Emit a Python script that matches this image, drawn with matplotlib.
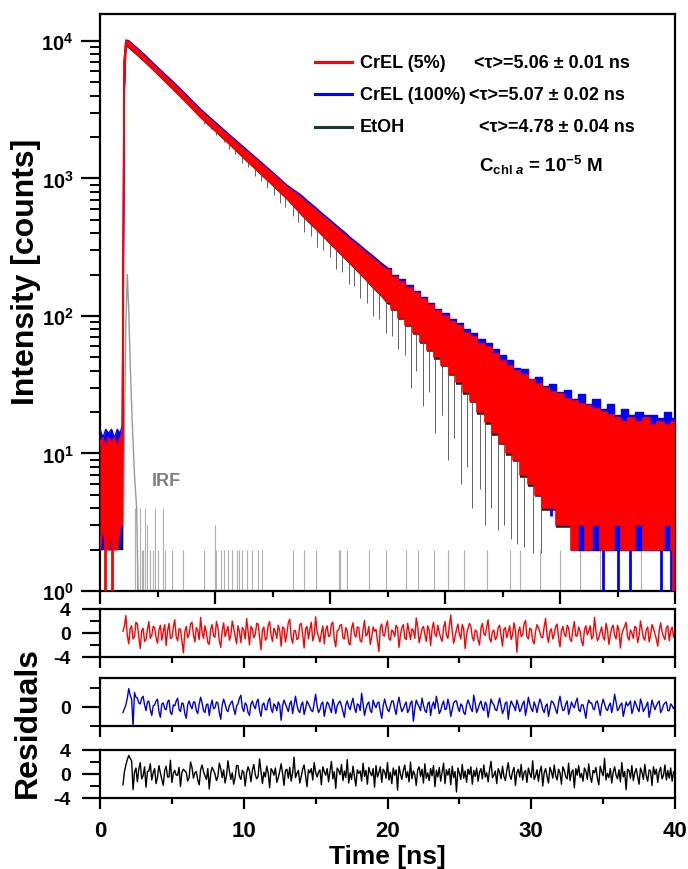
import numpy as np
import matplotlib
matplotlib.use("Agg")
import matplotlib.pyplot as plt
from matplotlib.transforms import ScaledTranslation
from matplotlib.ticker import MultipleLocator, LogLocator, FuncFormatter, NullFormatter, FixedLocator

plt.rcParams['font.family'] = ['Liberation Sans', 'DejaVu Sans']
plt.rcParams['font.weight'] = 'bold'
plt.rcParams['mathtext.fontset'] = 'custom'
plt.rcParams['mathtext.rm'] = 'Liberation Sans:bold'
plt.rcParams['mathtext.it'] = 'Liberation Sans:bold:italic'
plt.rcParams['mathtext.bf'] = 'Liberation Sans:bold'

W, H = 688, 870

# time grid of the decay envelopes: pre-pulse, rise and peak, 1 ns steps, 0.5 ns steps in the tail
t_pre = [0.0, 0.2, 0.4, 0.6, 0.8, 1.0, 1.2, 1.4, 1.55, 1.68, 1.8, 2.0]
t_mid = [3, 4, 5, 6, 7, 8, 9, 10, 11, 12, 13]
t_tail = list(np.arange(14, 40.01, 0.5))
t_env = np.array(t_pre + t_mid + t_tail)

# CrEL 5% (red): lower / upper edge of the noisy decay (counts)
cr5_lo = [2, 3, 2, 2, 3, 2, 2, 3, 3, 4000, 9400, 9100,
          7300, 5800, 4580, 3600, 2800, 2240, 1790, 1420, 1130, 905, 718,
          555, 492, 438, 388, 342, 304, 268, 238, 210, 186, 162, 145, 126, 112, 97, 86, 75, 65, 57, 50,
          44, 38, 33, 28, 24, 20, 17, 14, 12, 10, 9, 7, 6, 5, 4, 4, 3, 3, 2, 3,
          2, 3, 2, 2, 3, 2, 2, 3, 2, 2, 2, 3, 2]
cr5_hi = [12, 13, 11, 13, 12, 13, 11, 13, 14, 7000, 10000, 9900,
          7900, 6250, 5000, 3950, 3100, 2500, 2020, 1640, 1330, 1080, 870,
          725, 650, 590, 530, 480, 432, 392, 352, 320, 288, 262, 236, 215, 192, 178, 160, 146, 132, 120, 108,
          100, 90, 84, 75, 70, 63, 59, 53, 47, 43, 40, 37, 34, 32, 30, 28, 27, 25, 24, 23,
          22, 21, 20, 19, 18, 17, 18, 17, 18, 16, 17, 16, 17]

# CrEL 100% (blue)
cr100_lo = [2, 2, 3, 2, 2, 2, 3, 2, 3, 4100, 9500, 9200,
            7400, 5880, 4650, 3660, 2860, 2290, 1830, 1460, 1165, 935, 745,
            575, 512, 457, 405, 358, 318, 281, 250, 221, 196, 171, 153, 134, 119, 103, 92, 80, 70, 61, 54,
            47, 41, 36, 31, 26, 22, 19, 16, 13, 11, 10, 8, 7, 6, 5, 4, 3, 3, 3, 2,
            2, 2, 2, 2, 2, 2, 2, 2, 2, 2, 2, 2, 2]
cr100_hi = [15, 13, 15, 14, 15, 13, 15, 14, 16, 7200, 10150, 10050,
            8140, 6440, 5150, 4070, 3190, 2575, 2080, 1690, 1370, 1110, 895,
            755, 678, 614, 552, 500, 450, 408, 366, 333, 300, 273, 246, 224, 200, 185, 167, 152, 138, 125, 113,
            105, 95, 89, 80, 75, 68, 64, 58, 52, 48, 42, 41, 35, 36, 31, 32, 28, 29, 25, 27,
            23, 25, 21, 23, 19, 21, 19, 20, 19, 19, 18, 20, 18]

# EtOH (black)
etoh_lo = [2, 2, 2, 2, 2, 2, 2, 2, 2, 3800, 9200, 8900,
           7190, 5710, 4510, 3545, 2760, 2205, 1765, 1400, 1115, 890, 708,
           544, 482, 429, 380, 335, 298, 263, 233, 206, 182, 159, 142, 123, 110, 95, 84, 74, 64, 56, 49,
           43, 37, 32, 27, 23.5, 19.5, 16.5, 13.7, 11.7, 9.8, 8.8, 6.8, 5.8, 4.9, 3.9, 3.9, 2.9, 2.9, 2, 2,
           2, 2, 2, 2, 2, 2, 2, 2, 2, 2, 2, 2, 2]
etoh_hi = [11, 12, 10, 12, 11, 12, 10, 11, 12, 6800, 9900, 9700,
           7270, 5750, 4600, 3630, 2850, 2300, 1860, 1510, 1220, 990, 800,
           650, 585, 530, 477, 432, 389, 353, 317, 288, 259, 236, 212, 194, 173, 160, 144, 131, 119, 108, 97,
           90, 81, 76, 68, 63, 57, 53, 48, 42, 39, 36, 33, 31, 29, 27, 25, 24, 23, 22, 21,
           20, 19, 18, 17, 16, 15, 16, 15, 16, 14, 15, 14, 15]

# single-channel excursions below / above the envelopes (time, low, high)
etoh_spk_t = [7.2, 7.7, 8.1, 8.6, 9.0, 9.4, 9.9, 10.3, 10.8, 11.2, 11.6, 12.1, 12.5, 12.9,
              13.4, 13.8, 14.2, 14.7, 15.1, 15.5, 16.0, 16.4, 16.8, 17.3, 17.7, 18.1, 18.6, 19.0,
              19.4, 19.9, 20.3, 20.7, 21.2, 21.6, 22.0, 22.5, 22.9, 23.3, 23.8, 24.2, 24.6, 25.1,
              25.5, 25.9, 26.4, 26.8, 27.2, 27.7, 28.1, 28.6, 29.0, 29.5, 30.1, 30.7]
etoh_spk_lo = [2500, 2300, 2080, 1850, 1650, 1500, 1300, 1220, 1050, 960, 850, 760, 660, 620,
               530, 480, 410, 380, 320, 300, 270, 220, 210, 170, 165, 135, 125, 100,
               95, 75, 72, 58, 52, 30, 40, 22, 28, 14, 19, 9, 13, 6,
               8, 4, 5.5, 3, 4, 2.8, 3, 2.4, 2.2, 2.1, 1.9, 1.9]
etoh_spk_hi = [2750, 2500, 2250, 2020, 1820, 1680, 1470, 1350, 1200, 1100, 1010, 900, 830, 740,
               660, 600, 540, 480, 440, 400, 350, 320, 290, 260, 235, 210, 185, 165,
               150, 130, 120, 106, 95, 84, 76, 66, 60, 53, 47, 42, 38, 32,
               28, 26, 22, 19, 17, 14, 12, 11, 9, 8, 6.5, 5]
cr100_spk_t = [31.4, 32.6, 33.4, 34.1, 35.0, 36.0, 36.9, 39.0, 39.7]
cr100_spk_lo = [3.5, 3, 2.2, 2.2, 0.8, 0.8, 0.8, 0.8, 0.8]
cr100_spk_hi = [8, 6, 5, 4, 4, 3, 3, 3, 4]
cr5_spk_t = [0.35, 0.8, 39.85]
cr5_spk_lo = [0.8, 0.8, 0.8]
cr5_spk_hi = [3, 3, 3]

# instrument response function
irf_t = [1.6, 1.7, 1.8, 1.9, 2.0, 2.1, 2.25, 2.4, 2.55, 2.65]
irf_v = [2, 15, 90, 200, 110, 45, 16, 7, 4, 1]
irf_spk_t = [2.44, 2.6, 2.78, 2.9, 3.0, 3.13, 3.3, 3.5, 3.7, 3.83, 4.0, 4.38, 4.5, 5.0, 5.8, 7.2,
             8.0, 8.1, 8.4, 8.6, 8.9, 9.2, 9.5, 9.7, 9.9, 10.2, 10.6, 11.0, 11.3, 13.4, 14.2, 15.0,
             16.6, 16.7, 17.2, 18.7, 19.9, 21.3, 22.1, 23.2, 24.2, 25.3, 26.9, 28.5, 29.2, 30.6,
             32.0, 33.4, 34.8, 37.6]
irf_spk_v = [4, 2, 4, 2, 2, 4, 3, 2, 2, 4, 2, 4, 2, 2, 2, 2,
             3, 2, 2, 2, 2, 2, 2, 2, 2, 2, 2, 2, 2, 2, 2, 2,
             2, 2, 2, 2, 2, 2, 2, 2, 2, 2, 2, 2, 2, 2,
             2, 2, 2, 2]

# weighted residuals, 0.1 ns channels from 1.6 ns
res_cr5 = [0.3, 1.2, 2.9, -0.4, -1.8, 0.7, 1.2, -1.0, -0.6, 1.8, 1.5, -0.7, -2.6, 0.4, 0.8, -1.4, -1.1, 0.6, 1.9, -0.9,
           -0.4, 1.1, 0.9, -0.8, -1.7, 0.5, 1.3, -1.2, 0.2, 1.4, -2.1, 0.3, 1.6, -0.9, -0.8, 1.0, 2.2, -0.6, -1.3, 0.7,
           0.6, -1.4, -3.3, 0.2, 1.1, -0.8, -0.2, 1.5, 1.8, -0.3, -1.5, 0.9, 0.4, -1.1, 2.6, 0.1, -0.9, 1.2, 0.1, -1.6,
           -1.9, 0.6, 1.4, -0.5, -0.7, 1.9, 0.9, -1.3, -2.4, 0.3, 1.7, -0.6, 0.3, 1.1, -1.2, -0.4, 2.0, 0.8, -0.5, -1.8,
           1.2, 0.2, -1.6, 0.9, 0.5, -1.0, 2.4, 0.3, -2.0, 1.1, 0.7, -0.8, -0.3, 1.6, 1.5, -0.6, -2.8, 0.5, 1.0, -1.2,
           -0.8, 1.3, 1.9, -0.4, -1.4, 0.8, 0.2, -0.9, 1.3, 0.4, -2.2, 1.0, 0.8, -1.5, -0.1, 1.7, 2.3, -0.7, -1.7, 0.4,
           0.4, -1.1, -0.9, 1.4, 1.6, -0.3, -2.5, 0.7, 1.1, -1.0, 0.6, 1.8, -1.3, -0.4, 2.7, 0.2, -0.6, -1.5, 0.0, 1.2,
           -1.8, 0.5, 1.2, -0.6, -0.4, 1.5, 1.8, -1.1, -2.3, 0.4, 0.5, 1.3, 1.4, -0.8, -1.0, 0.9, 0.3, -1.7, -2.0, 0.8,
           1.7, -0.2, -0.7, 1.0, 0.9, -1.3, -1.5, 0.6, 2.1, -0.5, -0.2, 1.1, -1.9, -0.7, 1.0, 0.3, 0.6, -1.2, -3.1, 0.9,
           1.5, -0.4, -0.5, 1.2, 2.0, -0.9, -1.2, 0.5, 0.2, -0.6, 1.3, 0.8, -2.4, -0.3, 0.9, 1.4, -0.8, -1.1, 1.6, 0.2,
           -1.1, 0.7, 0.4, -0.9, 2.5, 1.0, -1.6, -0.5, 0.7, 1.1, -0.3, -1.4, 1.2, 0.4, -2.1, 0.6, 1.8, -0.2, -0.6, 1.3,
           0.1, -0.8, -1.4, 0.9, 1.9, -0.4, -0.9, 1.2, 3.0, 0.3, -1.7, -0.6, 0.6, 1.5, -0.2, -1.0, 1.4, 0.7, -2.6, -0.3,
           0.8, 1.6, 1.1, -0.7, -1.3, 0.5, 0.3, -1.2, -2.0, 0.8, 1.6, -0.1, -0.4, 1.0, 2.2, -0.9, -1.5, 0.2, 0.5, -1.1,
           -0.7, 0.9, 1.3, -0.5, -2.2, 0.6, 0.9, -0.8, 0.2, 1.2, -1.1, -0.3, 1.7, 0.4, -3.2, 0.2, 1.0, -0.6, -0.3, 1.5,
           2.1, -0.6, -1.0, 0.8, 0.6, -1.3, -1.8, 0.3, 1.4, 0.9, 0.1, -0.7, -0.8, 1.1, 2.4, -0.4, -1.6, 0.3, 0.7, -1.0,
           -0.2, 1.1, 1.5, -0.9, -2.3, 0.4, 1.1, -0.2, -0.6, 1.3, 0.8, -1.1, -1.4, 0.7, 1.9, -0.5, -0.5, 1.0, 0.3, -1.4,
           -2.1, 0.5, 1.2, -0.3, 0.4, 1.2, -1.0, -0.6, 2.6, 0.3, -1.3, -0.8, 0.2, 1.0, -0.7, -1.2, 1.6, 0.6, -1.9, -0.4,
           0.9, 1.3, -0.4, -1.0, 1.3, 0.4, -2.5, -0.2, 0.6, 1.1, 1.8, -0.6, -1.2, 0.5, 0.0, -0.9, 1.1, 0.9, -1.6, -0.5,
           2.0, 0.6, -0.8, -1.2, 0.5, 1.0, -1.5, -0.4, 1.4, 0.8, -0.1, -1.0, -2.2, 0.4, 1.7, 0.2, -0.6, -1.1, 0.9, 1.2,
           -1.3, 0.4, 1.0, -0.7, 0.2]
res_cr100 = [-0.6, -0.2, 0.2, 0.9, 1.9, 1.2, 0.8, -2.0, 1.5, 1.0, 0.9, 0.4, 0.3, 0.9, 1.1, 0.2, -0.4, 0.5, 0.6, -0.3,
             -0.9, 0.1, 0.2, 0.6, 0.8, -0.5, -1.1, 0.3, 0.4, -0.2, -0.3, 0.5, 0.7, -0.6, -0.8, 0.2, 0.1, 0.6, 0.9, -0.3,
             -0.5, 0.4, 0.3, -0.7, -1.2, 0.2, 0.6, 0.1, -0.2, 0.5, 0.5, -0.4, -0.7, 0.3, 1.0, 0.4, -0.4, -0.6, 0.2, 0.3,
             -0.9, 0.1, 0.7, -0.2, -0.1, 0.5, 0.4, -0.6, -1.3, 0.2, 0.8, 0.3, -0.3, -0.5, 0.1, 0.4, 0.6, -0.2, -0.8, 0.1,
             0.3, 0.9, 1.2, -0.1, -0.5, 0.4, 0.2, -0.6, -0.9, 0.3, 0.6, 0.1, -0.2, 0.5, 0.8, -0.4, -1.0, 0.2, 0.4, -0.3,
             -0.3, 0.6, 0.9, -0.2, -0.6, 0.3, 0.1, -0.4, 0.5, 0.2, -1.4, 0.1, 0.7, 0.3, -0.1, -0.5, 0.3, 0.6, -0.7, 0.2,
             1.1, 0.2, -0.4, -0.6, 0.2, 0.5, -0.8, -0.2, 0.6, 0.3, 0.0, -0.4, -0.5, 0.4, 1.3, 0.1, -0.6, -0.3, 0.3, 0.5,
             -1.0, -0.2, 0.5, 0.3, -0.2, -0.6, 0.8, 0.2, -0.7, 0.1, 0.4, 0.6, 0.1, -0.5, -1.1, 0.2, 0.6, 0.0, -0.3, 0.4,
             0.9, -0.1, -0.6, 0.3, 0.2, -0.4, 1.4, 0.3, -0.9, -0.2, 0.3, 0.5, -0.4, -0.6, 0.7, 0.2, -0.1, 0.4, 0.5, -0.5,
             -1.2, 0.1, 0.8, 0.2, -0.3, -0.5, 0.1, 0.6, 0.6, -0.2, -0.8, 0.3, 1.0, 0.1, -0.5, -0.2, 0.2, 0.5, -0.6, -0.3,
             0.4, 0.6, -1.5, -0.2, 0.7, 0.3, 0.0, -0.4, 0.9, 0.2, -0.4, -0.6, 0.3, 0.5, -0.9, 0.1, 0.5, -0.2, 1.1, 0.3,
             -0.7, -0.4, 0.2, 0.6, -0.3, -0.2, 0.8, 0.2, -1.0, -0.3, 0.4, 0.6, 0.6, -0.1, -0.5, 0.3, 0.1, -0.6, -0.8, 0.2,
             0.7, 0.3, -0.2, -0.5, 1.2, 0.4, -0.6, -0.2, 0.3, 0.6, -0.1, -0.4, 0.5, 0.2, -1.1, -0.2, 0.8, 0.4, 0.2, -0.3,
             -0.4, 0.3, 0.9, 0.1, -0.7, -0.3, 0.4, 0.5, -1.3, -0.1, 0.6, 0.3, 0.0, -0.4, 0.7, 0.2, -0.5, -0.2, 0.3, 0.6,
             -0.9, -0.1, 1.0, 0.3, -0.2, -0.5, 0.5, 0.1, -0.6, 0.2, 0.8, 0.4, -0.3, -0.6, 0.1, 0.3, -1.0, -0.2, 0.6, 0.5,
             0.2, -0.3, -0.7, 0.4, 1.1, 0.2, -0.4, -0.3, 0.3, 0.6, -0.8, -0.2, 0.5, 0.1, -0.1, 0.5, 0.9, -0.3, -0.5, 0.2,
             0.2, -0.4, -1.2, 0.1, 0.7, 0.4, 0.4, -0.2, -0.3, 0.5, 0.6, -0.1, -0.9, 0.2, 0.8, 0.3, -0.2, -0.4, 0.1, 0.4,
             -0.6, 0.2, 1.3, 0.5, -0.4, -0.2, 0.2, 0.4, -1.0, -0.3, 0.5, 0.1, 0.3, 0.6, -0.7, -0.2, 0.6, 0.2, -0.2, -0.5,
             0.8, 0.3, -0.5, -0.2, 0.1, 0.5, -1.1, -0.3, 0.7, 0.2, -0.3, 0.1, 0.4, 0.6, -0.6, -0.3, 0.2, 0.4, 0.5, -0.4,
             -0.4, 0.3, 0.1, -0.2, 0.2]
res_etoh = [-1.8, 0.4, 1.5, 2.4, 3.1, 2.6, 2.2, -2.6, 0.3, 1.0, -1.3, 0.8, 1.9, -0.8, -0.3, 1.2, -2.2, 0.4, 0.5, 1.7,
            -1.0, 0.2, 0.9, -1.6, -0.5, 1.4, 0.2, -0.9, -1.9, 0.6, 1.3, -0.5, -0.5, 2.3, -1.4, 0.1, 0.6, -0.2, -0.2, 1.1,
            -2.1, 0.3, 0.8, 0.5, 0.3, -1.2, -0.6, 2.0, 1.1, -0.7, 0.2, 0.4, -1.0, -1.8, 0.7, 1.5, 0.4, -0.3, -0.9, 0.9,
            -2.5, 0.1, 1.1, 0.6, 0.0, -1.1, -0.4, 1.8, 0.9, -0.6, 0.7, -1.5, -0.3, 2.2, 0.5, -0.9, 0.2, -1.7, -0.6, 1.4,
            1.4, -0.4, -0.9, 0.6, 0.3, -2.0, 0.2, 1.2, 0.5, -1.3, 0.6, 1.6, -0.1, -0.8, -0.4, 2.5, 0.4, -1.6, 0.3, -0.5,
            1.3, 0.2, -2.3, 0.9, 0.5, -0.2, 1.0, -1.4, -0.6, 0.4, 1.7, 0.1, -1.9, 0.6, 0.8, -0.7, 1.1, -1.2, 0.2, 2.8,
            -0.6, 0.1, 0.6, -1.5, -0.4, 0.8, 1.5, -0.3, -2.1, 0.7, 0.2, 0.9, -1.0, 1.9, 0.3, -0.5, 0.3, 0.7, -1.8, 1.2,
            0.4, -0.2, 0.9, -1.3, 0.5, 2.1, -0.8, 0.4, -2.4, 1.0, 0.6, -0.1, 1.6, -1.1, 0.5, -0.6, 2.4, -1.5, 0.2, -0.9,
            1.3, -0.3, -2.0, 0.7, 0.1, 0.5, -1.2, 1.8, -0.4, 0.6, -1.7, 1.1, 0.2, -0.3, 0.9, -2.2, 1.4, -0.5, 0.2, 1.2,
            -1.4, 0.8, 0.4, -0.7, 1.9, -1.0, 0.3, -1.6, 1.0, -0.2, 0.7, -2.7, 1.3, 0.0, -0.9, 0.6, 1.5, -0.6, 0.4, -1.3,
            2.0, -0.8, 0.5, -0.1, -1.9, 0.7, 1.2, -0.4, 0.8, -1.5, 1.7, -0.7, 0.2, -1.1, 0.9, -0.3, 1.4, -2.1, 0.6, -0.5,
            1.1, -1.2, 0.3, 1.8, -1.6, 0.7, -0.2, 0.9, -1.8, 1.3, -0.6, 0.4, -3.0, 1.0, 0.1, -0.9, 1.6, -0.7, 0.5, -1.4,
            0.8, -0.1, 1.2, -1.7, 0.6, -0.4, 1.0, -1.2, 0.3, 0.9, -0.8, 1.5, -0.5, 0.2, -1.3, 0.7, 2.1, -0.6, -0.2, 0.5,
            -1.6, 0.9, 0.3, -0.8, 1.3, -0.4, -1.1, 0.6, 1.9, -0.2, -0.9, 0.4, 1.1, -1.9, 0.3, 0.8, -0.5, 1.6, -1.0, 0.2,
            0.6, -1.4, 1.0, 0.1, -0.6, 2.2, -0.9, -0.3, 0.7, -1.2, 0.5, 1.3, -2.0, 0.2, 0.9, -0.4, -1.5, 1.1, 0.4, -0.7,
            1.5, -0.3, -1.0, 0.8, 0.2, -1.7, 1.2, 0.6, -0.5, -0.8, 1.8, -1.1, 0.3, 0.7, -2.3, 0.9, -0.2, 1.4, -0.6, 0.1,
            -1.2, 1.0, 0.5, -0.9, 1.7, -0.4, -1.4, 0.6, 0.2, 1.1, -0.7, -1.8, 1.3, 0.4, -0.3, 2.6, -1.0, 0.1, -0.6, 0.9,
            -1.5, 0.3, 1.2, -0.2, -0.8, 0.7, -1.3, 1.9, -0.5, 0.4, -2.6, 0.8, 0.6, -0.7, 1.4, -1.1, 0.2, 0.9, -0.4, -1.7,
            1.0, 0.3, -0.9, 1.6, -0.3, -1.2, 0.7, 0.5, -1.9, 1.2, -0.1, 0.8, -1.4, 0.4, 1.1, -0.8, -0.2, 1.5, -1.0, 0.6,
            -0.7, 1.0, -1.2, 0.4, 0.3]

RED = '#ff0000'
BLUE = '#0000ff'
BLACK = '#000000'
GREY = '#b0b0b0'


def px_box(left, top, right, bottom):
    return [left / W, 1 - bottom / H, (right - left) / W, (bottom - top) / H]


def draw_band(ax, lo, hi, color, z, lw=1.2):
    lo, hi = np.asarray(lo), np.asarray(hi)
    k = int(np.searchsorted(t_env, 20.0))
    # smooth part of the decay
    ax.fill_between(t_env[:k + 1], lo[:k + 1], hi[:k + 1], color=color, lw=0, zorder=z)
    ax.plot(t_env[:k + 1], lo[:k + 1], color=color, lw=lw, zorder=z)
    ax.plot(t_env[:k + 1], hi[:k + 1], color=color, lw=lw, zorder=z)
    # count-limited tail drawn channel-like
    ax.fill_between(t_env[k:], lo[k:], hi[k:], step='mid', color=color, lw=0, zorder=z)
    ax.step(t_env[k:], lo[k:], where='mid', color=color, lw=lw, zorder=z)
    ax.step(t_env[k:], hi[k:], where='mid', color=color, lw=lw, zorder=z)


def nudge(axis, value, dy_pt):
    # shift a single tick label vertically
    for tick in axis.get_major_ticks():
        if np.isclose(tick.get_loc(), value):
            lbl = tick.label1
            lbl.set_transform(lbl.get_transform() + ScaledTranslation(0, dy_pt / 72, fig.dpi_scale_trans))


fig = plt.figure(figsize=(W / 100, H / 100), dpi=100)

# ---- decay panel ----
ax = fig.add_axes(px_box(100, 15, 675, 592))
ax.set_yscale('log')

ax.vlines(irf_spk_t, 0.5, irf_spk_v, color=GREY, lw=0.8, zorder=1)
ax.plot(irf_t, irf_v, color='#9a9a9a', lw=1.0, zorder=1)

draw_band(ax, etoh_lo, etoh_hi, BLACK, 2, lw=0.5)
ax.vlines(etoh_spk_t, etoh_spk_lo, etoh_spk_hi, color='#4a4a4a', lw=0.6, zorder=2)
draw_band(ax, cr100_lo, cr100_hi, BLUE, 3, lw=1.0)
ax.vlines(cr100_spk_t, cr100_spk_lo, cr100_spk_hi, color=BLUE, lw=2.0, zorder=3)
draw_band(ax, cr5_lo, cr5_hi, RED, 4, lw=1.2)
ax.vlines(cr5_spk_t, cr5_spk_lo, cr5_spk_hi, color=RED, lw=2.0, zorder=4)

ax.set_xlim(0, 40)
ax.set_ylim(1, 15700)
ax.xaxis.set_major_locator(MultipleLocator(8))
ax.xaxis.set_minor_locator(MultipleLocator(4))
ax.xaxis.set_major_formatter(NullFormatter())
ax.yaxis.set_major_locator(FixedLocator([1, 10, 100, 1000, 10000]))
ax.yaxis.set_minor_locator(LogLocator(base=10, subs=np.arange(2, 10), numticks=20))
ax.yaxis.set_minor_formatter(NullFormatter())
ax.yaxis.set_major_formatter(FuncFormatter(lambda v, p: '10$^{%d}$' % round(np.log10(v))))
ax.tick_params(axis='y', which='major', length=14, width=1.6, labelsize=14.5, pad=5)
ax.tick_params(axis='y', which='minor', length=7, width=1.4)
ax.tick_params(axis='x', which='major', length=9, width=1.6)
ax.tick_params(axis='x', which='minor', length=4.5, width=1.6)
for s in ax.spines.values():
    s.set_linewidth(1.6)
nudge(ax.yaxis, 1, 2.5)

ax.text(166 / W, 1 - 482 / H, 'IRF', transform=fig.transFigure, color='#808080',
        fontsize=13, ha='center', va='center')

# legend drawn by hand so the lifetime column lines up
rows = [(63, RED, 'CrEL (5%)', 474, '<τ>=5.06 ± 0.01 ns'),
        (95, BLUE, 'CrEL (100%)', 469, '<τ>=5.07 ± 0.02 ns'),
        (128, '#143c34', 'EtOH', 479, '<τ>=4.78 ± 0.04 ns')]
for y, col, name, xt, tau in rows:
    ax.plot([315 / W, 352 / W], [1 - y / H] * 2, color=col, lw=2.2,
            transform=fig.transFigure, clip_on=False, zorder=6)
    fig.text(360 / W, 1 - y / H, name, fontsize=13, va='center')
    fig.text(xt / W, 1 - y / H, tau, fontsize=13, va='center')
fig.text(479 / W, 1 - 165 / H, r'C$_{\mathrm{chl}\ \mathit{a}}$ = 10$^{\mathrm{-5}}$ M',
         fontsize=13.5, va='center')

# ---- residual panels ----
panels = [((610, 658), res_cr5, RED, (-4, 4), [-4, 0, 4]),
          ((679, 727), res_cr100, '#0000dd', (-2, 3), [0]),
          ((751, 799), res_etoh, BLACK, (-4, 4), [-4, 0, 4])]
for i, ((top, bot), res, col, ylim, yt) in enumerate(panels):
    rax = fig.add_axes(px_box(100, top, 675, bot))
    t_res = np.round(1.6 + 0.1 * np.arange(len(res)), 2)
    rax.plot(t_res, res, color=col, lw=1.0)
    rax.set_xlim(0, 40)
    rax.set_ylim(*ylim)
    rax.yaxis.set_major_locator(FixedLocator(yt))
    rax.yaxis.set_minor_locator(FixedLocator([-2, 2]))
    rax.xaxis.set_major_locator(MultipleLocator(10))
    rax.xaxis.set_minor_locator(MultipleLocator(5))
    rax.yaxis.set_major_formatter(FuncFormatter(lambda v, p: '%d' % v))
    rax.tick_params(axis='y', which='major', length=13, width=1.6, labelsize=14, pad=8)
    rax.tick_params(axis='y', which='minor', length=7, width=1.4)
    rax.tick_params(axis='x', which='major', length=8, width=1.6, labelsize=16, pad=8)
    rax.tick_params(axis='x', which='minor', length=4, width=1.6)
    if i < 2:
        rax.tick_params(axis='x', labelbottom=False)
    for s in rax.spines.values():
        s.set_linewidth(1.6)
    if i == 0:
        nudge(rax.yaxis, 4, -2.5)

fig.text(26 / W, 1 - 272 / H, 'Intensity [counts]', rotation=90, fontsize=23,
         ha='center', va='center')
fig.text(28 / W, 1 - 722 / H, 'Residuals', rotation=90, fontsize=23,
         ha='center', va='center')
fig.text(387 / W, 1 - 857 / H, 'Time [ns]', fontsize=19, ha='center', va='center')

fig.savefig('out.png', dpi=100)
